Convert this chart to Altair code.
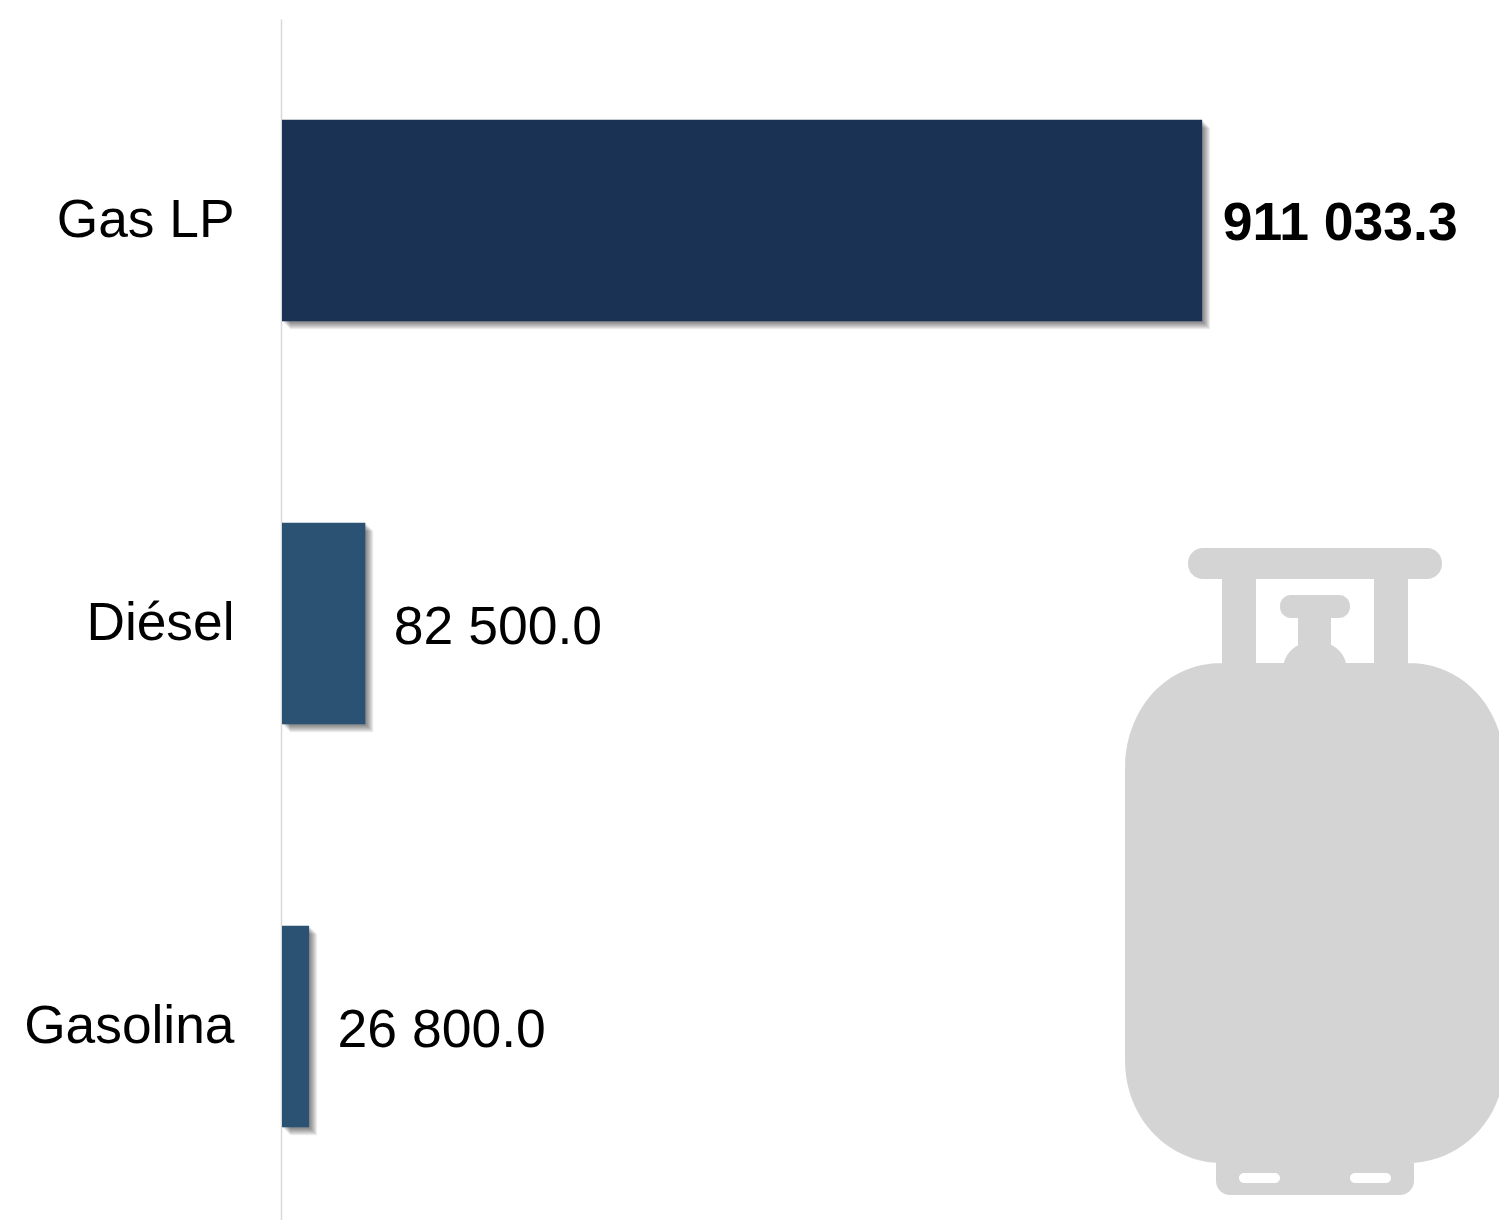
import altair as alt
import pandas as pd

categories = ["Gas LP", "Diésel", "Gasolina"]
values = [911033.3, 82500.0, 26800.0]
labels = ["911 033.3", "82 500.0", "26 800.0"]
bar_colors = ["#1a3354", "#2b5273", "#2b5273"]
shadow_steps = [1, 2, 3, 4, 5, 6, 7, 8]

FONT = "Liberation Sans"
CX, CY = 1315, 871


def round_rect(x0, y0, x1, y1, r, clockwise=True):
    pts = [(x0 + r, y0), (x1 - r, y0), (x1, y0 + r), (x1, y1 - r), (x1 - r, y1), (x0 + r, y1), (x0, y1 - r), (x0, y0 + r)]
    if not clockwise:
        pts = pts[::-1]
    out = f"M{pts[0][0] - CX},{pts[0][1] - CY}"
    sweep = 1 if clockwise else 0
    for i in range(1, 8):
        px, py = pts[i]
        if i % 2 == 0:
            out += f"A{r},{r} 0 0 {sweep} {px - CX},{py - CY}"
        else:
            out += f"L{px - CX},{py - CY}"
    out += f"A{r},{r} 0 0 {sweep} {pts[0][0] - CX},{pts[0][1] - CY}Z"
    return out


def body_path():
    def p(x, y):
        return f"{x - CX},{y - CY}"
    return (
        f"M{p(1222, 663)}L{p(1408, 663)}"
        f"C{p(1465, 663)} {p(1505, 710)} {p(1505, 770)}"
        f"L{p(1505, 1060)}"
        f"C{p(1505, 1120)} {p(1460, 1163)} {p(1408, 1163)}"
        f"L{p(1222, 1163)}"
        f"C{p(1170, 1163)} {p(1125, 1120)} {p(1125, 1060)}"
        f"L{p(1125, 770)}"
        f"C{p(1125, 710)} {p(1165, 663)} {p(1222, 663)}Z"
    )


icon_path = "".join([
    round_rect(1188, 548, 1442, 579, 15),
    round_rect(1222, 570, 1256, 670, 0.01),
    round_rect(1374, 570, 1408, 670, 0.01),
    round_rect(1280, 595, 1350, 618, 11),
    round_rect(1298, 610, 1331, 650, 0.01),
    round_rect(1283, 642, 1347, 700, 28),
    body_path(),
    round_rect(1216, 1150, 1414, 1195, 14),
    round_rect(1239, 1173, 1280, 1183, 5, clockwise=False),
    round_rect(1350, 1173, 1391, 1183, 5, clockwise=False),
])

df = pd.DataFrame({"cat": categories, "val": values, "label": labels})
y = alt.Y(
    "cat:N",
    sort=categories,
    title=None,
    scale=alt.Scale(range=[0, 1209], paddingInner=0.5, paddingOuter=0.25),
    axis=alt.Axis(
        domain=True, domainColor="#d9d9d9", domainWidth=1.5, ticks=False, grid=False,
        labelFont=FONT, labelFontSize=53.3, labelColor="#000000", labelPadding=47, offset=1,
        labelLimit=400,
    ),
)
x = alt.X("val:Q", title=None, axis=None, scale=alt.Scale(domain=[0, 1200000], range=[0, 1212]))

base = alt.Chart(df).encode(x=x, y=y)

icon = alt.Chart(pd.DataFrame({"icon": ["cylinder"]})).mark_point(
    shape=icon_path, filled=True, fill="#d4d4d4", stroke=None, opacity=1, size=4
).encode(x=alt.value(CX - 282), y=alt.value(CY - 19))

shadows = [
    base.mark_bar(color="#000000", opacity=0.07, xOffset=d, yOffset=d) for d in shadow_steps
]
bars = base.mark_bar().encode(
    color=alt.Color("cat:N", scale=alt.Scale(domain=categories, range=bar_colors), legend=None)
)
text_big = base.transform_filter(alt.datum.cat == "Gas LP").mark_text(
    align="left", baseline="middle", font=FONT, fontSize=53.5, fontWeight="bold", color="#000000", dx=20.5, dy=3
).encode(text="label:N")
text_small = base.transform_filter(alt.datum.cat != "Gas LP").mark_text(
    align="left", baseline="middle", font=FONT, fontSize=53.5, color="#000000", dx=28.5, dy=4
).encode(text="label:N")

chart = alt.layer(icon, *shadows, bars, text_big, text_small).properties(
    width=1212,
    height=1201,
    padding={"left": 274, "top": 11, "right": 5, "bottom": 0},
    autosize=alt.AutoSizeParams(type="none"),
).configure_view(stroke=None).configure_axis(labelFontWeight="normal")

chart.save("out.html", embed_options={"renderer": "svg", "actions": False})
